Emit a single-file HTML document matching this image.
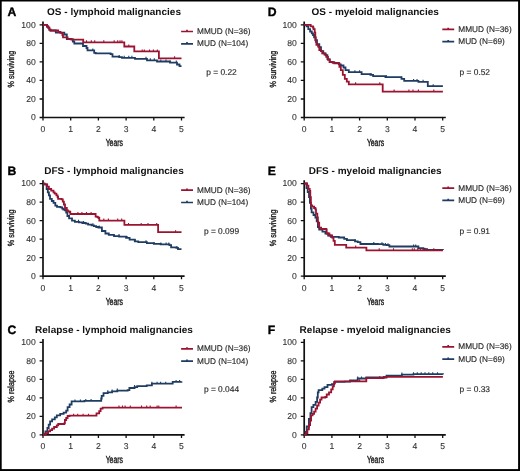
<!DOCTYPE html>
<html><head><meta charset="utf-8"><style>
html,body{margin:0;padding:0;background:#fff;}
body{width:520px;height:471px;overflow:hidden;}
svg{display:block;will-change:transform;}
text{font-family:"Liberation Sans",sans-serif;text-rendering:geometricPrecision;}
.lbl{font-weight:bold;font-size:12.2px;fill:#000;stroke:#000;stroke-width:0.35px;}
.ttl{font-weight:bold;font-size:9.8px;fill:#111;}
.tk{font-size:8.6px;fill:#333;stroke:#333;stroke-width:0.1px;}
.ax{font-size:10.2px;fill:#1a1a1a;stroke:#1a1a1a;stroke-width:0.4px;}
.ay{font-size:9px;fill:#1a1a1a;stroke:#1a1a1a;stroke-width:0.35px;}
.lg{font-size:8.25px;fill:#2a2a2a;stroke:#2a2a2a;stroke-width:0.15px;}
.pv{font-size:8.4px;fill:#2a2a2a;stroke:#2a2a2a;stroke-width:0.15px;}
</style></head><body>
<svg width="520" height="471" viewBox="0 0 520 471">
<rect x="0" y="0" width="520" height="471" fill="#fff"/>

<g transform="translate(0.0,0.0)">
<text class="lbl" x="7.6" y="15.7">A</text>
<text class="ttl" x="114" y="15.3" text-anchor="middle" textLength="133.9" lengthAdjust="spacingAndGlyphs">OS - lymphoid malignancies</text>
<path d="M43,21.5V117.5H184.6" fill="none" stroke="#111" stroke-width="1.7"/>
<path d="M39.6,117.50H43M39.6,98.98H43M39.6,80.46H43M39.6,61.94H43M39.6,43.42H43M39.6,24.90H43M43.00,117.5V120.6M70.70,117.5V120.6M98.40,117.5V120.6M126.10,117.5V120.6M153.80,117.5V120.6M181.50,117.5V120.6" fill="none" stroke="#111" stroke-width="1.3"/>
<text class="tk" x="35.7" y="120.40" text-anchor="end">0</text>
<text class="tk" x="35.7" y="101.88" text-anchor="end">20</text>
<text class="tk" x="35.7" y="83.36" text-anchor="end">40</text>
<text class="tk" x="35.7" y="64.84" text-anchor="end">60</text>
<text class="tk" x="35.7" y="46.32" text-anchor="end">80</text>
<text class="tk" x="35.7" y="27.80" text-anchor="end">100</text>
<text class="tk" x="43.00" y="132.0" text-anchor="middle">0</text>
<text class="tk" x="70.70" y="132.0" text-anchor="middle">1</text>
<text class="tk" x="98.40" y="132.0" text-anchor="middle">2</text>
<text class="tk" x="126.10" y="132.0" text-anchor="middle">3</text>
<text class="tk" x="153.80" y="132.0" text-anchor="middle">4</text>
<text class="tk" x="181.50" y="132.0" text-anchor="middle">5</text>
<text class="ax" x="114.3" y="146.1" text-anchor="middle" textLength="17.2" lengthAdjust="spacingAndGlyphs">Years</text>
<text class="ay" transform="translate(14.4,69.1) rotate(-90)" x="0" y="0" text-anchor="middle" textLength="36.7" lengthAdjust="spacingAndGlyphs">% surviving</text>
<g transform="translate(0,0)">
<path d="M181.1,31.5H193M187,31.5V29.8" stroke="#9a1431" stroke-width="1.7" fill="none"/>
<path d="M181.1,43.8H193M187,43.8V42.1" stroke="#1f3d62" stroke-width="1.7" fill="none"/>
<text class="lg" x="197.1" y="34.1">MMUD (N=36)</text>
<text class="lg" x="197.1" y="46.3">MUD (N=104)</text>
</g>
<text class="pv" x="221.5" y="75" text-anchor="middle">p = 0.22</text>
</g>
<path d="M43.0,24.9H47.0V26.5H48.2V27.7H49.3V29.6H50.5V30.5H55.8V32.7H64.3V34.5H66.8V39.2H72.8V41.5H74.3V43.5H83.0V46.0H86.5V48.0H87.5V50.4H94.2V52.8H95.7V53.3H110.6V54.2H112.5V56.6H119.2V57.1H122.0V57.8H135.0V58.8H147.0V60.3H157.0V61.5H170.0V62.6H177.0V64.5H179.5V66.2H181.5V66.2" fill="none" stroke="#1f3d62" stroke-width="1.8" stroke-linejoin="miter"/>
<path d="M92.8,50.6V48.4M119.2,57.3V55.1M124.2,58.0V55.8M128.8,58.0V55.8M131.9,58.0V55.8M146.0,59.0V56.8M150.3,60.5V58.3M154.3,60.5V58.3M160.8,61.7V59.5M166.0,61.7V59.5M170.0,62.8V60.6M176.3,62.8V60.6" fill="none" stroke="#1f3d62" stroke-width="1.1"/>
<path d="M43.0,24.9H47.0V24.9H47.0V26.5H48.2V27.7H49.3V29.6H50.5V30.5H58.2V32.0H60.5V32.8H62.4V35.0H63.0V37.3H67.6V38.8H71.2V39.6H83.2V42.3H124.3V46.5H134.3V51.4H158.9V58.3H181.5V58.3" fill="none" stroke="#9a1431" stroke-width="1.8" stroke-linejoin="miter"/>
<path d="M86.5,42.5V40.3M91.3,42.5V40.3M94.7,42.5V40.3M103.8,42.5V40.3M114.2,42.5V40.3M117.7,42.5V40.3M120.0,42.5V40.3M121.9,42.5V40.3M128.8,46.7V44.5M142.2,51.6V49.4M144.3,51.6V49.4M149.5,51.6V49.4M153.4,51.6V49.4M157.3,51.6V49.4M174.6,58.5V56.3" fill="none" stroke="#9a1431" stroke-width="1.1"/>
<g transform="translate(0.0,158.7)">
<text class="lbl" x="7.6" y="16.0">B</text>
<text class="ttl" x="114" y="15.3" text-anchor="middle" textLength="139.5" lengthAdjust="spacingAndGlyphs">DFS - lymphoid malignancies</text>
<path d="M43,21.5V117.5H184.6" fill="none" stroke="#111" stroke-width="1.7"/>
<path d="M39.6,117.50H43M39.6,98.98H43M39.6,80.46H43M39.6,61.94H43M39.6,43.42H43M39.6,24.90H43M43.00,117.5V120.6M70.70,117.5V120.6M98.40,117.5V120.6M126.10,117.5V120.6M153.80,117.5V120.6M181.50,117.5V120.6" fill="none" stroke="#111" stroke-width="1.3"/>
<text class="tk" x="35.7" y="120.40" text-anchor="end">0</text>
<text class="tk" x="35.7" y="101.88" text-anchor="end">20</text>
<text class="tk" x="35.7" y="83.36" text-anchor="end">40</text>
<text class="tk" x="35.7" y="64.84" text-anchor="end">60</text>
<text class="tk" x="35.7" y="46.32" text-anchor="end">80</text>
<text class="tk" x="35.7" y="27.80" text-anchor="end">100</text>
<text class="tk" x="43.00" y="132.0" text-anchor="middle">0</text>
<text class="tk" x="70.70" y="132.0" text-anchor="middle">1</text>
<text class="tk" x="98.40" y="132.0" text-anchor="middle">2</text>
<text class="tk" x="126.10" y="132.0" text-anchor="middle">3</text>
<text class="tk" x="153.80" y="132.0" text-anchor="middle">4</text>
<text class="tk" x="181.50" y="132.0" text-anchor="middle">5</text>
<text class="ax" x="114.3" y="146.1" text-anchor="middle" textLength="17.2" lengthAdjust="spacingAndGlyphs">Years</text>
<text class="ay" transform="translate(14.4,69.1) rotate(-90)" x="0" y="0" text-anchor="middle" textLength="36.7" lengthAdjust="spacingAndGlyphs">% surviving</text>
<g transform="translate(0,0)">
<path d="M181.1,31.5H193M187,31.5V29.8" stroke="#9a1431" stroke-width="1.7" fill="none"/>
<path d="M181.1,43.8H193M187,43.8V42.1" stroke="#1f3d62" stroke-width="1.7" fill="none"/>
<text class="lg" x="197.1" y="34.1">MMUD (N=36)</text>
<text class="lg" x="197.1" y="46.3">MUD (N=104)</text>
</g>
<text class="pv" x="221.5" y="75" text-anchor="middle">p = 0.099</text>
</g>
<path d="M43.0,183.6H44.5V184.3H46.6V189.0H47.8V192.4H48.9V195.3H50.0V198.8H51.8V201.0H53.5V202.8H55.3V205.7H57.0V206.8H60.5V207.4H62.2V208.6H63.3V209.7H65.0V210.3H66.2V212.6H67.4V216.0H69.1V218.4H72.0V220.7H74.9V221.8H78.9V222.4H82.4V223.0H85.8V223.6H88.1V224.7H91.6V225.3H93.9V226.2H96.2V227.0H98.5V227.5H101.9V231.0H105.4V233.5H108.8V234.8H114.0V236.1H119.2V236.7H126.1V237.9H129.6V239.6H134.8V241.3H138.3V242.2H146.9V243.1H153.8V243.9H160.7V244.4H169.4V245.1H171.1V247.4H176.3V247.9H178.0V249.1H181.5V249.1" fill="none" stroke="#1f3d62" stroke-width="1.8" stroke-linejoin="miter"/>
<path d="M78.5,222.0V219.8M83.6,223.2V221.0M92.9,225.5V223.3M99.2,227.7V225.5M119.0,236.3V234.1M127.1,238.1V235.9M135.2,241.5V239.3M146.0,242.4V240.2M154.0,244.1V241.9M160.8,244.6V242.4M166.1,244.6V242.4M168.8,244.6V242.4M176.9,248.1V245.9" fill="none" stroke="#1f3d62" stroke-width="1.1"/>
<path d="M43.0,183.6H44.5V184.3H47.2V186.6H48.9V189.0H50.7V189.0H51.2V190.7H53.5V192.4H54.7V193.6H56.4V195.3H57.6V197.0H58.1V198.8H61.6V199.3H62.8V201.6H63.9V204.5H65.0V208.0H66.8V210.3H68.0V211.4H69.7V212.0H70.3V214.0H95.0V214.0H95.6V216.6H97.4V217.2H98.5V218.0H99.3V220.6H124.4V220.6H124.4V224.9H158.1V224.9H158.1V232.2H181.5V232.2" fill="none" stroke="#9a1431" stroke-width="1.8" stroke-linejoin="miter"/>
<path d="M77.9,214.2V212.0M81.9,214.2V212.0M86.5,214.2V212.0M91.1,214.2V212.0M103.8,220.8V218.6M108.4,220.8V218.6M117.7,220.8V218.6M121.7,220.8V218.6M128.5,225.1V222.9M141.2,225.1V222.9M148.0,225.1V222.9M156.7,225.1V222.9M175.6,232.4V230.2" fill="none" stroke="#9a1431" stroke-width="1.1"/>
<g transform="translate(0.0,317.4)">
<text class="lbl" x="7.6" y="17.1">C</text>
<text class="ttl" x="114" y="15.3" text-anchor="middle" textLength="157.8" lengthAdjust="spacingAndGlyphs">Relapse - lymphoid malignancies</text>
<path d="M43,21.5V117.5H184.6" fill="none" stroke="#111" stroke-width="1.7"/>
<path d="M39.6,117.50H43M39.6,98.98H43M39.6,80.46H43M39.6,61.94H43M39.6,43.42H43M39.6,24.90H43M43.00,117.5V120.6M70.70,117.5V120.6M98.40,117.5V120.6M126.10,117.5V120.6M153.80,117.5V120.6M181.50,117.5V120.6" fill="none" stroke="#111" stroke-width="1.3"/>
<text class="tk" x="35.7" y="120.40" text-anchor="end">0</text>
<text class="tk" x="35.7" y="101.88" text-anchor="end">20</text>
<text class="tk" x="35.7" y="83.36" text-anchor="end">40</text>
<text class="tk" x="35.7" y="64.84" text-anchor="end">60</text>
<text class="tk" x="35.7" y="46.32" text-anchor="end">80</text>
<text class="tk" x="35.7" y="27.80" text-anchor="end">100</text>
<text class="tk" x="43.00" y="132.0" text-anchor="middle">0</text>
<text class="tk" x="70.70" y="132.0" text-anchor="middle">1</text>
<text class="tk" x="98.40" y="132.0" text-anchor="middle">2</text>
<text class="tk" x="126.10" y="132.0" text-anchor="middle">3</text>
<text class="tk" x="153.80" y="132.0" text-anchor="middle">4</text>
<text class="tk" x="181.50" y="132.0" text-anchor="middle">5</text>
<text class="ax" x="114.3" y="146.1" text-anchor="middle" textLength="17.2" lengthAdjust="spacingAndGlyphs">Years</text>
<text class="ay" transform="translate(14.4,69.1) rotate(-90)" x="0" y="0" text-anchor="middle" textLength="31.9" lengthAdjust="spacingAndGlyphs">% relapse</text>
<g transform="translate(0,0)">
<path d="M181.1,31.5H193M187,31.5V29.8" stroke="#9a1431" stroke-width="1.7" fill="none"/>
<path d="M181.1,43.8H193M187,43.8V42.1" stroke="#1f3d62" stroke-width="1.7" fill="none"/>
<text class="lg" x="197.1" y="34.1">MMUD (N=36)</text>
<text class="lg" x="197.1" y="46.3">MUD (N=104)</text>
</g>
<text class="pv" x="221.5" y="75" text-anchor="middle">p = 0.044</text>
</g>
<path d="M43.0,434.9H44.0V433.7H45.4V431.4H47.4V428.0H48.7V424.7H50.1V421.3H52.1V419.3H54.8V417.3H56.8V415.3H60.2V413.9H63.6V412.6H66.2V410.6H67.6V407.2H69.6V404.5H71.6V401.4H84.4V400.9H100.0V400.9H101.2V398.5H101.7V395.8H103.5V393.2H107.8V392.3H112.1V391.4H117.3V390.6H127.7V390.2H129.4V388.0H134.6V387.1H137.2V386.2H146.7V385.4H151.9V383.7H170.9V383.7H172.7V381.9H181.5V381.6" fill="none" stroke="#1f3d62" stroke-width="1.8" stroke-linejoin="miter"/>
<path d="M75.0,401.6V399.4M80.4,401.6V399.4M85.8,401.1V398.9M91.1,401.1V398.9M107.8,392.5V390.3M112.1,391.6V389.4M117.3,390.8V388.6M134.6,387.3V385.1M151.9,383.9V381.7M157.1,383.9V381.7M160.6,383.9V381.7M165.7,383.9V381.7M176.1,382.1V379.9M179.6,382.1V379.9" fill="none" stroke="#1f3d62" stroke-width="1.1"/>
<path d="M43.0,434.9H45.0V434.0H46.0V433.2H48.1V431.4H50.1V430.1H52.1V428.7H54.1V427.0H56.8V425.4H58.2V424.0H64.2V423.4H64.9V420.0H66.2V418.0H67.6V416.0H69.6V415.7H95.9V415.7H96.5V413.3H99.2V411.2H100.6V408.6H102.6V407.6H182.0V407.6" fill="none" stroke="#9a1431" stroke-width="1.8" stroke-linejoin="miter"/>
<path d="M73.6,415.9V413.7M77.7,415.9V413.7M83.1,415.9V413.7M88.5,415.9V413.7M119.0,407.8V405.6M122.5,407.8V405.6M125.1,407.8V405.6M130.3,407.8V405.6M141.5,407.8V405.6M146.7,407.8V405.6M150.2,407.8V405.6M157.1,407.8V405.6M158.8,407.8V405.6M176.1,407.8V405.6" fill="none" stroke="#9a1431" stroke-width="1.1"/>
<g transform="translate(261.2,0.0)">
<text class="lbl" x="6.5" y="15.7">D</text>
<text class="ttl" x="114" y="15.3" text-anchor="middle" textLength="127.3" lengthAdjust="spacingAndGlyphs">OS - myeloid malignancies</text>
<path d="M43,21.5V117.5H184.6" fill="none" stroke="#111" stroke-width="1.7"/>
<path d="M39.6,117.50H43M39.6,98.98H43M39.6,80.46H43M39.6,61.94H43M39.6,43.42H43M39.6,24.90H43M43.00,117.5V120.6M70.70,117.5V120.6M98.40,117.5V120.6M126.10,117.5V120.6M153.80,117.5V120.6M181.50,117.5V120.6" fill="none" stroke="#111" stroke-width="1.3"/>
<text class="tk" x="35.7" y="120.40" text-anchor="end">0</text>
<text class="tk" x="35.7" y="101.88" text-anchor="end">20</text>
<text class="tk" x="35.7" y="83.36" text-anchor="end">40</text>
<text class="tk" x="35.7" y="64.84" text-anchor="end">60</text>
<text class="tk" x="35.7" y="46.32" text-anchor="end">80</text>
<text class="tk" x="35.7" y="27.80" text-anchor="end">100</text>
<text class="tk" x="43.00" y="132.0" text-anchor="middle">0</text>
<text class="tk" x="70.70" y="132.0" text-anchor="middle">1</text>
<text class="tk" x="98.40" y="132.0" text-anchor="middle">2</text>
<text class="tk" x="126.10" y="132.0" text-anchor="middle">3</text>
<text class="tk" x="153.80" y="132.0" text-anchor="middle">4</text>
<text class="tk" x="181.50" y="132.0" text-anchor="middle">5</text>
<text class="ax" x="114.3" y="146.1" text-anchor="middle" textLength="17.2" lengthAdjust="spacingAndGlyphs">Years</text>
<text class="ay" transform="translate(14.4,69.1) rotate(-90)" x="0" y="0" text-anchor="middle" textLength="36.7" lengthAdjust="spacingAndGlyphs">% surviving</text>
<g transform="translate(0,-2.1)">
<path d="M181.1,31.5H193M187,31.5V29.8" stroke="#9a1431" stroke-width="1.7" fill="none"/>
<path d="M181.1,43.8H193M187,43.8V42.1" stroke="#1f3d62" stroke-width="1.7" fill="none"/>
<text class="lg" x="197.1" y="34.1">MMUD (N=36)</text>
<text class="lg" x="197.1" y="46.3">MUD (N=69)</text>
</g>
<text class="pv" x="213.6" y="75" text-anchor="middle">p = 0.52</text>
</g>
<path d="M304.3,24.8H306.6V26.3H308.3V29.2H310.1V31.5H311.8V33.3H313.0V35.0H314.1V37.3H315.3V40.2H317.0V44.2H319.3V47.1H321.0V51.1H323.3V53.4H325.6V55.2H327.4V59.2H329.7V62.1H334.3V63.3H338.9V64.4H340.8V65.5H343.5V67.5H345.5V70.2H348.8V72.2H358.9V72.2H361.6V74.2H370.4V74.9H373.1V76.2H385.4V77.2H400.9V77.2H401.5V78.8H404.2V80.9H417.7V80.9H418.4V81.8H427.1V81.8H427.8V86.2H442.9V86.2" fill="none" stroke="#1f3d62" stroke-width="1.8" stroke-linejoin="miter"/>
<path d="M354.9,72.4V70.2M359.6,72.4V70.2M371.0,75.1V72.9M386.5,77.4V75.2M401.5,79.0V76.8M413.6,81.1V78.9M417.0,81.1V78.9M423.1,82.0V79.8M433.2,86.4V84.2" fill="none" stroke="#1f3d62" stroke-width="1.1"/>
<path d="M304.3,24.8H310.1V24.8H310.7V26.3H313.0V27.5H313.5V29.2H314.7V32.7H315.3V37.3H315.8V41.9H316.4V44.8H318.1V46.5H319.3V50.0H321.0V51.1H322.2V53.4H324.5V54.6H326.2V56.9H328.0V59.8H329.7V62.0H332.7V62.8H338.7V63.5H339.4V66.8H340.8V70.2H342.8V74.9H344.8V78.9H346.8V81.6H348.8V84.3H382.0V84.3H382.7V91.6H442.9V91.6" fill="none" stroke="#9a1431" stroke-width="1.8" stroke-linejoin="miter"/>
<path d="M355.6,84.5V82.3M379.8,84.5V82.3M394.1,91.8V89.6M408.9,91.8V89.6M413.0,91.8V89.6M418.4,91.8V89.6M433.8,91.8V89.6" fill="none" stroke="#9a1431" stroke-width="1.1"/>
<g transform="translate(261.2,158.7)">
<text class="lbl" x="6.5" y="16.0">E</text>
<text class="ttl" x="114" y="15.3" text-anchor="middle" textLength="132.8" lengthAdjust="spacingAndGlyphs">DFS - myeloid malignancies</text>
<path d="M43,21.5V117.5H184.6" fill="none" stroke="#111" stroke-width="1.7"/>
<path d="M39.6,117.50H43M39.6,98.98H43M39.6,80.46H43M39.6,61.94H43M39.6,43.42H43M39.6,24.90H43M43.00,117.5V120.6M70.70,117.5V120.6M98.40,117.5V120.6M126.10,117.5V120.6M153.80,117.5V120.6M181.50,117.5V120.6" fill="none" stroke="#111" stroke-width="1.3"/>
<text class="tk" x="35.7" y="120.40" text-anchor="end">0</text>
<text class="tk" x="35.7" y="101.88" text-anchor="end">20</text>
<text class="tk" x="35.7" y="83.36" text-anchor="end">40</text>
<text class="tk" x="35.7" y="64.84" text-anchor="end">60</text>
<text class="tk" x="35.7" y="46.32" text-anchor="end">80</text>
<text class="tk" x="35.7" y="27.80" text-anchor="end">100</text>
<text class="tk" x="43.00" y="132.0" text-anchor="middle">0</text>
<text class="tk" x="70.70" y="132.0" text-anchor="middle">1</text>
<text class="tk" x="98.40" y="132.0" text-anchor="middle">2</text>
<text class="tk" x="126.10" y="132.0" text-anchor="middle">3</text>
<text class="tk" x="153.80" y="132.0" text-anchor="middle">4</text>
<text class="tk" x="181.50" y="132.0" text-anchor="middle">5</text>
<text class="ax" x="114.3" y="146.1" text-anchor="middle" textLength="17.2" lengthAdjust="spacingAndGlyphs">Years</text>
<text class="ay" transform="translate(14.4,69.1) rotate(-90)" x="0" y="0" text-anchor="middle" textLength="36.7" lengthAdjust="spacingAndGlyphs">% surviving</text>
<g transform="translate(0,-2.1)">
<path d="M181.1,31.5H193M187,31.5V29.8" stroke="#9a1431" stroke-width="1.7" fill="none"/>
<path d="M181.1,43.8H193M187,43.8V42.1" stroke="#1f3d62" stroke-width="1.7" fill="none"/>
<text class="lg" x="197.1" y="34.1">MMUD (N=36)</text>
<text class="lg" x="197.1" y="46.3">MUD (N=69)</text>
</g>
<text class="pv" x="213.6" y="75" text-anchor="middle">p = 0.91</text>
</g>
<path d="M304.3,183.5H305.5V183.5H306.5V188.2H307.7V192.0H309.0V197.1H309.9V202.9H310.9V208.6H311.6V212.4H313.5V215.0H315.4V217.5H316.7V221.4H317.9V227.1H319.2V229.7H322.4V231.6H325.4V233.5H328.1V235.5H330.8V236.8H338.8V237.5H344.2V238.8H346.9V240.2H355.0V241.3H357.7V242.2H360.4V244.0H377.9V244.2H383.3V244.9H386.7V245.2H389.4V246.5H417.7V246.5H418.4V248.1H423.1V248.6H424.4V249.2H427.1V249.9H442.9V250.1" fill="none" stroke="#1f3d62" stroke-width="1.8" stroke-linejoin="miter"/>
<path d="M346.9,240.4V238.2M355.0,241.5V239.3M373.8,244.2V242.0M382.0,244.4V242.2M385.4,245.1V242.9M388.0,245.4V243.2M413.6,246.7V244.5M415.7,246.7V244.5M418.4,248.3V246.1" fill="none" stroke="#1f3d62" stroke-width="1.1"/>
<path d="M304.3,183.5H305.5V183.5H307.1V185.7H308.4V188.8H309.7V190.8H310.3V192.0H310.3V197.1H310.9V205.4H312.2V206.7H314.1V208.0H315.4V209.3H316.0V213.7H317.3V217.5H317.9V222.6H319.2V227.7H321.1V229.0H326.1V229.4H326.7V233.5H329.4V235.5H332.1V237.5H333.5V240.9H334.8V244.9H345.6V244.9H346.2V247.6H365.8V247.6H366.4V250.3H442.9V250.3" fill="none" stroke="#9a1431" stroke-width="1.8" stroke-linejoin="miter"/>
<path d="M355.7,247.8V245.6M379.2,250.5V248.3M393.5,250.5V248.3M412.3,250.5V248.3M414.3,250.5V248.3M417.7,250.5V248.3M420.4,250.5V248.3M423.1,250.5V248.3M425.8,250.5V248.3M433.8,250.5V248.3" fill="none" stroke="#9a1431" stroke-width="1.1"/>
<g transform="translate(261.2,317.4)">
<text class="lbl" x="6.5" y="17.1">F</text>
<text class="ttl" x="114" y="15.3" text-anchor="middle" textLength="151.2" lengthAdjust="spacingAndGlyphs">Relapse - myeloid malignancies</text>
<path d="M43,21.5V117.5H184.6" fill="none" stroke="#111" stroke-width="1.7"/>
<path d="M39.6,117.50H43M39.6,98.98H43M39.6,80.46H43M39.6,61.94H43M39.6,43.42H43M39.6,24.90H43M43.00,117.5V120.6M70.70,117.5V120.6M98.40,117.5V120.6M126.10,117.5V120.6M153.80,117.5V120.6M181.50,117.5V120.6" fill="none" stroke="#111" stroke-width="1.3"/>
<text class="tk" x="35.7" y="120.40" text-anchor="end">0</text>
<text class="tk" x="35.7" y="101.88" text-anchor="end">20</text>
<text class="tk" x="35.7" y="83.36" text-anchor="end">40</text>
<text class="tk" x="35.7" y="64.84" text-anchor="end">60</text>
<text class="tk" x="35.7" y="46.32" text-anchor="end">80</text>
<text class="tk" x="35.7" y="27.80" text-anchor="end">100</text>
<text class="tk" x="43.00" y="132.0" text-anchor="middle">0</text>
<text class="tk" x="70.70" y="132.0" text-anchor="middle">1</text>
<text class="tk" x="98.40" y="132.0" text-anchor="middle">2</text>
<text class="tk" x="126.10" y="132.0" text-anchor="middle">3</text>
<text class="tk" x="153.80" y="132.0" text-anchor="middle">4</text>
<text class="tk" x="181.50" y="132.0" text-anchor="middle">5</text>
<text class="ax" x="114.3" y="146.1" text-anchor="middle" textLength="17.2" lengthAdjust="spacingAndGlyphs">Years</text>
<text class="ay" transform="translate(14.4,69.1) rotate(-90)" x="0" y="0" text-anchor="middle" textLength="31.9" lengthAdjust="spacingAndGlyphs">% relapse</text>
<g transform="translate(0,-2.1)">
<path d="M181.1,31.5H193M187,31.5V29.8" stroke="#9a1431" stroke-width="1.7" fill="none"/>
<path d="M181.1,43.8H193M187,43.8V42.1" stroke="#1f3d62" stroke-width="1.7" fill="none"/>
<text class="lg" x="197.1" y="34.1">MMUD (N=36)</text>
<text class="lg" x="197.1" y="46.3">MUD (N=69)</text>
</g>
<text class="pv" x="213.6" y="75" text-anchor="middle">p = 0.33</text>
</g>
<path d="M304.3,434.9H305.5V432.0H306.7V426.5H308.9V419.0H310.4V413.1H311.6V407.1H313.4V404.9H315.6V401.9H317.1V397.5H317.8V392.3H318.6V390.1H322.3V388.6H324.5V387.1H327.5V384.9H331.9V384.1H334.2V381.9H344.6V381.6H350.0V380.4H357.7V378.5H366.3V377.5H386.5V375.6H401.9V374.6H413.5V374.2H442.9V374.6" fill="none" stroke="#1f3d62" stroke-width="1.8" stroke-linejoin="miter"/>
<path d="M357.7,378.7V376.5M361.5,378.7V376.5M401.9,374.8V372.6M413.5,374.4V372.2M417.3,374.4V372.2M421.2,374.4V372.2M425.0,374.4V372.2M428.8,374.4V372.2M432.7,374.4V372.2M437.5,374.4V372.2" fill="none" stroke="#1f3d62" stroke-width="1.1"/>
<path d="M304.3,434.9H305.9V433.2H307.4V429.4H308.9V425.0H310.1V420.5H311.1V415.3H312.6V413.8H314.1V411.6H315.6V408.6H317.1V405.7H318.6V402.7H320.1V399.7H321.5V397.5H325.3V397.0H326.7V394.5H329.0V392.3H331.2V389.3H332.7V386.3H333.9V383.4H334.9V381.3H366.3V381.3H366.3V378.1H380.8V378.1H383.7V376.9H442.9V376.9" fill="none" stroke="#9a1431" stroke-width="1.8" stroke-linejoin="miter"/>
<path d="M359.6,381.5V379.3M379.8,378.3V376.1" fill="none" stroke="#9a1431" stroke-width="1.1"/>
<rect x="0" y="0" width="1.7" height="471" fill="#000"/>
<rect x="0" y="0" width="520" height="1.5" fill="#000"/>
<rect x="518.1" y="0" width="1.9" height="471" fill="#000"/>
<rect x="0" y="469.1" width="520" height="1.9" fill="#000"/>
</svg></body></html>
